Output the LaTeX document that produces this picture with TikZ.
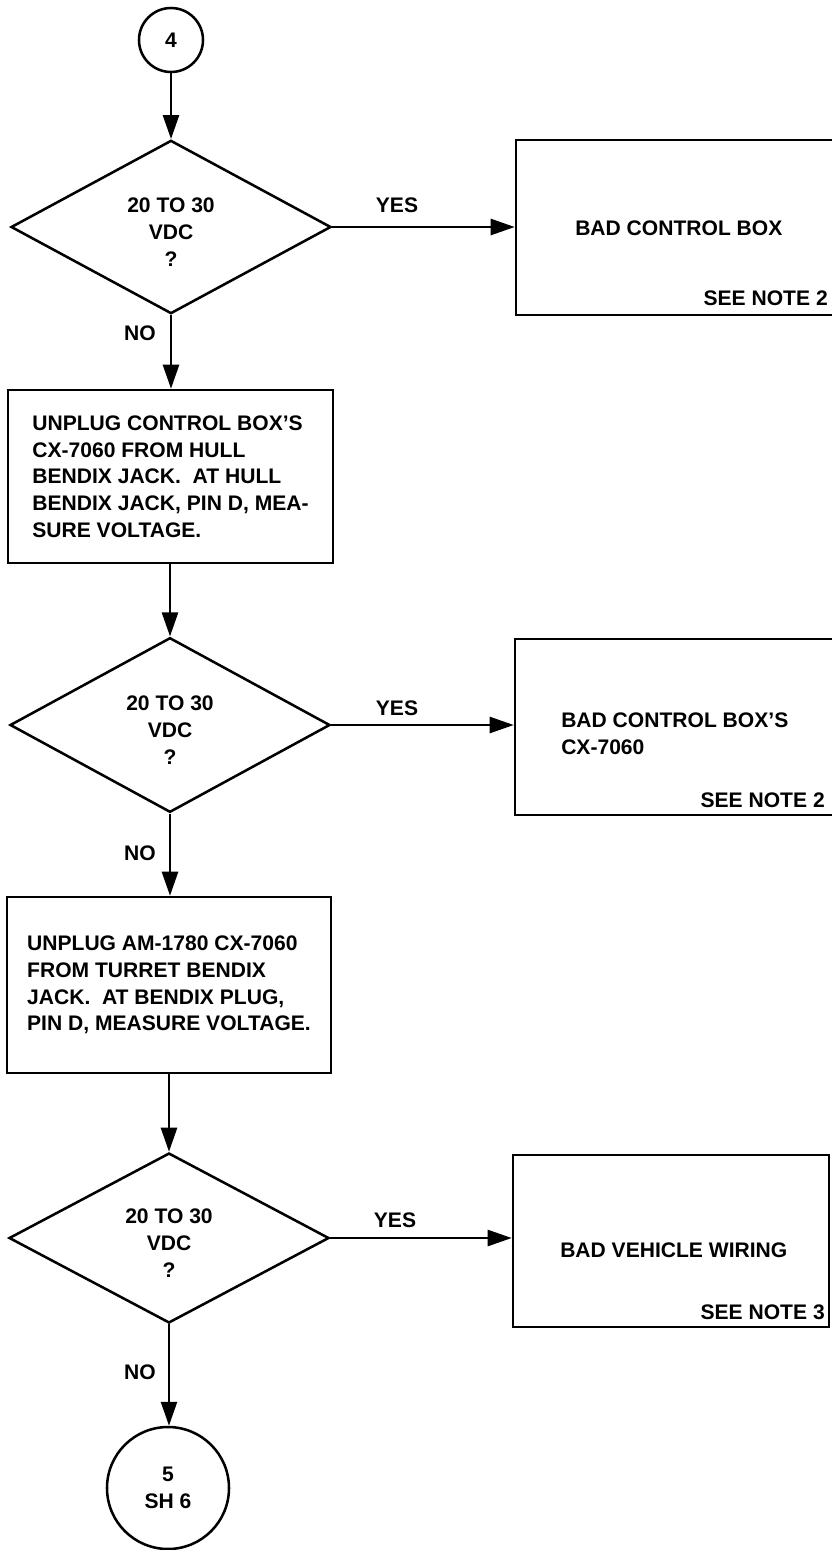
\documentclass[tikz,border=0pt]{standalone}
\usepackage{fontspec}
\setmainfont{Liberation Sans}
\usetikzlibrary{arrows.meta,shapes.geometric,calc}
\begin{document}
\begin{tikzpicture}[x=0.75pt,y=-0.75pt,
  every node/.style={font=\fontsize{15.8}{20}\selectfont\bfseries, inner sep=0pt},
  arr/.style={line width=1.9pt,-{Triangle[length=18pt,width=12pt]}},
  decision/.style={diamond, draw, line width=1.9pt, minimum width=240pt},
  stepbox/.style={rectangle, draw, line width=1.9pt, align=left},
  endbox/.style={rectangle, draw, line width=1.9pt},
  conncircle/.style={circle, draw, line width=1.9pt, align=center}
]
\useasboundingbox (0,0) rectangle (832,1550);
\clip (0,0) rectangle (832,1550);

% start connector
\node[conncircle, minimum size=48pt] (c4) at (171,40) {4};

% decision 1
\node[decision, minimum height=130pt] (d1) at (171,227) {};
\node[align=center] (d1t) at ($(d1.center)+(0,5)$) {20 TO 30\\VDC\\?};
\node[endbox, minimum width=240pt, minimum height=131.25pt] (r1) at (676,227.5) {};
\node[anchor=base west] (r1t) at (575,235.5) {BAD CONTROL BOX};
\node[anchor=base east] (r1n) at (828,305.5) {SEE NOTE 2};

% step A
\node[stepbox, minimum width=243.75pt, minimum height=129.75pt] (sa) at (170.5,476.5)
 {UNPLUG CONTROL BOX'S\\CX-7060 FROM HULL\\BENDIX JACK.\ \ AT HULL\\BENDIX JACK, PIN D, MEA-\\SURE VOLTAGE.};

% decision 2
\node[decision, minimum height=131pt] (d2) at (170,725) {};
\node[align=center] (d2t) at ($(d2.center)+(0,5)$) {20 TO 30\\VDC\\?};
\node[endbox, minimum width=240.75pt, minimum height=132pt] (r2) at (675.5,727) {};
\node[anchor=west, align=left] (r2t) at (561,734) {BAD CONTROL BOX'S\\CX-7060};
\node[anchor=base east] (r2n) at (825,807.5) {SEE NOTE 2};

% step B
\node[stepbox, minimum width=243pt, minimum height=132pt] (sb) at (169,985)
 {UNPLUG AM-1780 CX-7060\\FROM TURRET BENDIX\\JACK.\ \ AT BENDIX PLUG,\\PIN D, MEASURE VOLTAGE.};

% decision 3
\node[decision, minimum height=127.5pt] (d3) at (169,1238) {};
\node[align=center] (d3t) at ($(d3.center)+(0,5)$) {20 TO 30\\VDC\\?};
\node[endbox, minimum width=237pt, minimum height=129pt] (r3) at (671,1241) {};
\node[anchor=base west] (r3t) at (560,1257.5) {BAD VEHICLE WIRING};
\node[anchor=base east] (r3n) at (825,1319.5) {SEE NOTE 3};

% end connector
\node[conncircle, minimum size=91.5pt] (c5) at (168,1488) {5\\SH 6};

% connectors
\draw[arr] (c4.south) -- (d1.north);
\draw[arr] (d1.east) -- (d1.east -| r1.west);
\draw[arr] (d1.south) -- (d1.south |- sa.north);
\draw[arr] (sa.south -| d2.north) -- (d2.north);
\draw[arr] (d2.east) -- (d2.east -| r2.west);
\draw[arr] (d2.south) -- (d2.south |- sb.north);
\draw[arr] (sb.south -| d3.north) -- (d3.north);
\draw[arr] (d3.east) -- (d3.east -| r3.west);
\draw[arr] (d3.south) -- (d3.south |- c5.north);

% branch labels
\node (y1) at (397,205) {YES};
\node (y2) at (397,708) {YES};
\node (y3) at (395,1220) {YES};
\node (n1) at (140,333) {NO};
\node (n2) at (140,853) {NO};
\node (n3) at (140,1372) {NO};
\end{tikzpicture}
\end{document}
